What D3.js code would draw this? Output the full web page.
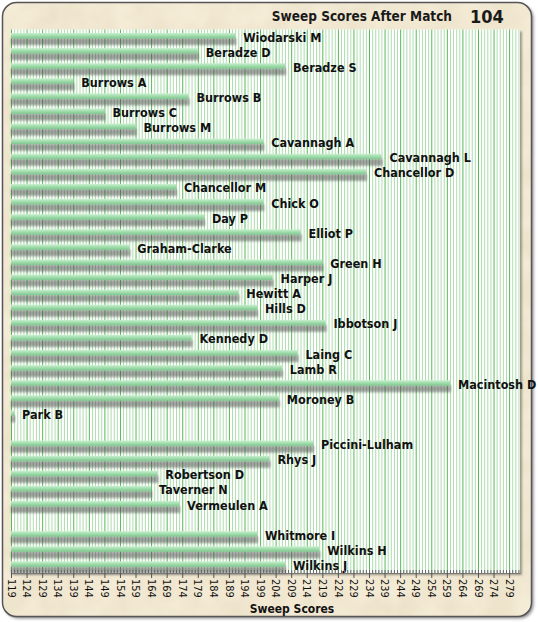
<html>
<head>
    <meta charset="utf-8">
    <title>Sweep Scores</title>
    <script src="https://cdn.jsdelivr.net/npm/d3@7"></script>
    <style>
        body { margin: 0; background: #ffffff; }
        text { font-family: "DejaVu Sans Condensed", "DejaVu Sans", sans-serif; }
    </style>
</head>
<body>
<svg id="chart"></svg>
<script>
    // players in table order, blank rows kept as in the original
    const names = ["Wiodarski M", "Beradze D", "Beradze S", "Burrows A", "Burrows B", "Burrows C",
        "Burrows M", "Cavannagh A", "Cavannagh L", "Chancellor D", "Chancellor M", "Chick O",
        "Day P", "Elliot P", "Graham-Clarke", "Green H", "Harper J", "Hewitt A", "Hills D",
        "Ibbotson J", "Kennedy D", "Laing C", "Lamb R", "Macintosh D", "Moroney B", "Park B", "",
        "Piccini-Lulham", "Rhys J", "Robertson D", "Taverner N", "Vermeulen A", "",
        "Whitmore I", "Wilkins H", "Wilkins J"];
    const scores = [191, 179, 207, 139, 176, 149, 159, 200, 238, 233, 172, 200,
        181, 212, 157, 219, 203, 192, 198, 220, 177, 211, 206, 260, 205, 120, null,
        216, 202, 166, 164, 173, null, 198, 218, 207];
    const tickLabels = [119, 124, 129, 134, 139, 144, 149, 154, 159, 164, 169, 174, 179, 184,
        189, 194, 199, 204, 209, 214, 219, 224, 229, 234, 239, 244, 249, 254, 259, 264, 269, 274, 279];
    const title = "Sweep Scores After Match";
    const matchNo = "104";
    const axisTitle = "Sweep Scores";

    const rows = names.map((n, i) => ({ i: i, name: n, score: scores[i] }));

    const svg = d3.select('#chart').attr('width', 538).attr('height', 622);
    const defs = svg.append('defs');

    const ps = defs.append('filter').attr('id', 'panelShadow')
        .attr('x', '-5%').attr('y', '-5%').attr('width', '110%').attr('height', '110%');
    ps.append('feDropShadow').attr('dx', 2).attr('dy', 2).attr('stdDeviation', 1.8)
        .attr('flood-color', '#000').attr('flood-opacity', 0.45);

    const pls = defs.append('filter').attr('id', 'plotShadow')
        .attr('x', '-5%').attr('y', '-5%').attr('width', '110%').attr('height', '110%');
    pls.append('feDropShadow').attr('dx', 2).attr('dy', 2).attr('stdDeviation', 1.2)
        .attr('flood-color', '#000').attr('flood-opacity', 0.35);

    const blur = defs.append('filter').attr('id', 'barBlur')
        .attr('x', '-5%').attr('y', '-100%').attr('width', '110%').attr('height', '300%');
    blur.append('feGaussianBlur').attr('stdDeviation', 0.9);

    // parchment mottling
    const tex = defs.append('filter').attr('id', 'paper');
    tex.append('feTurbulence').attr('type', 'fractalNoise').attr('baseFrequency', 0.035)
        .attr('numOctaves', 3).attr('seed', 4).attr('result', 'noise');
    tex.append('feColorMatrix').attr('in', 'noise').attr('type', 'matrix')
        .attr('values', '0 0 0 0 0.55  0 0 0 0 0.45  0 0 0 0 0.25  0 0 0 0.28 -0.06');

    const grad = defs.append('linearGradient').attr('id', 'barGrad')
        .attr('x1', 0).attr('y1', 0).attr('x2', 0).attr('y2', 1);
    grad.append('stop').attr('offset', '0%').attr('stop-color', '#c9f0cf');
    grad.append('stop').attr('offset', '45%').attr('stop-color', '#a3deae');
    grad.append('stop').attr('offset', '100%').attr('stop-color', '#7fc58f');

    const clip = defs.append('clipPath').attr('id', 'panelClip');
    clip.append('rect').attr('x', 2.5).attr('y', 2.5).attr('width', 529).attr('height', 614).attr('rx', 14);

    // panel
    svg.append('rect')
        .attr('x', 2.5).attr('y', 2.5).attr('width', 529).attr('height', 614).attr('rx', 14)
        .attr('fill', '#f5ecd7')
        .attr('filter', 'url(#panelShadow)');
    svg.append('rect')
        .attr('x', 2.5).attr('y', 2.5).attr('width', 529).attr('height', 614)
        .attr('clip-path', 'url(#panelClip)')
        .attr('filter', 'url(#paper)');
    svg.append('rect')
        .attr('x', 2.5).attr('y', 2.5).attr('width', 529).attr('height', 614).attr('rx', 14)
        .attr('fill', 'none').attr('stroke', '#555').attr('stroke-width', 1.5);

    // title
    svg.append('text').attr('x', 452).attr('y', 21).attr('text-anchor', 'end')
        .attr('font-size', 13.5).attr('font-weight', 'bold').attr('fill', '#1a1a1a').text(title);
    svg.append('text').attr('x', 470).attr('y', 23)
        .attr('font-family', 'DejaVu Sans').attr('font-size', 18).attr('font-weight', 'bold')
        .attr('fill', '#1a1a1a').text(matchNo);

    const plotL = 11, plotR = 520, plotT = 29.5, plotB = 573;

    const x = d3.scaleLinear().domain([119, 282.5]).range([plotL, plotR]);
    const y = d3.scaleBand().domain(rows.map(d => d.i)).range([plotT, plotB]);

    // plot background
    svg.append('rect')
        .attr('x', plotL).attr('y', plotT).attr('width', plotR - plotL).attr('height', plotB - plotT)
        .attr('fill', '#ffffff').attr('filter', 'url(#plotShadow)');

    const grid = svg.append('g');
    const minor = d3.range(120, 283).filter(v => tickLabels.indexOf(v) < 0);
    grid.selectAll('line.minor')
        .data(minor)
        .enter()
        .append('line')
        .attr('class', 'minor')
        .attr('x1', d => x(d) + 0.5).attr('x2', d => x(d) + 0.5)
        .attr('y1', plotT).attr('y2', plotB)
        .attr('stroke', '#b0dcb0').attr('stroke-width', 1);
    grid.selectAll('line.major')
        .data(tickLabels)
        .enter()
        .append('line')
        .attr('class', 'major')
        .attr('x1', d => x(d) + 0.5).attr('x2', d => x(d) + 0.5)
        .attr('y1', plotT).attr('y2', plotB)
        .attr('stroke', '#58b858').attr('stroke-width', 1);

    const withScore = rows.filter(d => d.score !== null);
    const barH = 5.5;
    const barOff = 3.5;

    // soft grey shadow under every bar
    svg.append('g').selectAll('rect')
        .data(withScore)
        .enter()
        .append('rect')
        .attr('x', x(119))
        .attr('y', d => y(d.i) + barOff + barH - 0.5)
        .attr('width', d => x(d.score) - x(119) + 1)
        .attr('height', 7)
        .attr('fill', '#4a4a4a')
        .attr('opacity', 0.5)
        .attr('filter', 'url(#barBlur)');

    svg.append('g').selectAll('rect')
        .data(withScore)
        .enter()
        .append('rect')
        .attr('x', x(119))
        .attr('y', d => y(d.i) + barOff)
        .attr('width', d => x(d.score) - x(119))
        .attr('height', barH)
        .attr('fill', 'url(#barGrad)');

    svg.append('g').selectAll('text')
        .data(withScore)
        .enter()
        .append('text')
        .attr('x', d => x(d.score) + 8)
        .attr('y', d => y(d.i) + barOff + barH + 3)
        .attr('font-size', 12.5)
        .attr('font-weight', 'bold')
        .attr('fill', '#111')
        .text(d => d.name);

    // bottom ruler
    const minorAxis = d3.axisBottom(x).tickValues(d3.range(119, 283)).tickSize(-3).tickFormat('');
    svg.append('g').attr('transform', `translate(0,${plotB})`).call(minorAxis)
        .call(g => g.select('.domain').remove())
        .selectAll('line').attr('stroke', '#666');

    const axis = d3.axisBottom(x).tickValues(tickLabels).tickSize(5).tickSizeOuter(0).tickFormat(d3.format('d'));
    const ax = svg.append('g').attr('transform', `translate(0,${plotB})`).call(axis);
    ax.select('.domain').attr('stroke', '#777').attr('stroke-width', 1.2);
    ax.selectAll('.tick line').attr('stroke', '#555');
    ax.selectAll('text')
        .attr('font-family', 'DejaVu Sans')
        .attr('font-size', 11)
        .attr('fill', '#111')
        .attr('transform', 'rotate(90)')
        .attr('text-anchor', 'start')
        .attr('x', 6)
        .attr('y', 0)
        .attr('dy', '0.35em');

    svg.append('text').attr('x', 292).attr('y', 613).attr('text-anchor', 'middle')
        .attr('font-size', 12).attr('font-weight', 'bold').attr('fill', '#111').text(axisTitle);
</script>
</body>
</html>
